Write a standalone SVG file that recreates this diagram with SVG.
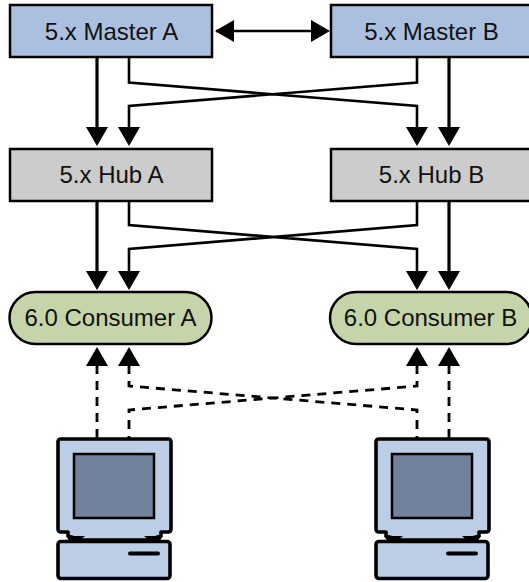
<svg xmlns="http://www.w3.org/2000/svg" width="529" height="582" viewBox="0 0 529 582">
<style>
.n{stroke:#000;stroke-width:2.5}
.t{font-family:"Liberation Sans",Arial,sans-serif;font-size:24px;fill:#111;text-anchor:middle}
.c{fill:none;stroke:#000}
.s{stroke-width:3.2}
.h{stroke-width:2.6}
.d{stroke-width:2.8;stroke-dasharray:9 7}
.ah{fill:#000}
.pc{fill:#bccde6;stroke:#000;stroke-width:3.6;stroke-linejoin:round}
.sc{fill:#71829d;stroke:#000;stroke-width:2.5}
</style>
<defs>
<path id="dn" class="ah" d="M-11 0H11L0 19Z"/>
<path id="up" class="ah" d="M-11 0H11L0 -19Z"/>
<g id="computer">
<path class="pc" d="M0 3Q0 0 3 0H110Q113 0 113 3V90Q113 93 110 93H103V97L90 101H23L10 97V93H3Q0 93 0 90Z"/>
<rect class="sc" x="16" y="15" width="80" height="64"/>
<path d="M8 97H27L20 103H12Z M105 97H86L93 103H101Z" fill="#000"/>
<rect class="pc" x="0" y="102.500" width="112" height="37" rx="3"/>
<path d="M72 114.500H100" stroke="#000" stroke-width="4" stroke-linecap="round"/>
</g>
</defs>
<g id="connectors">
<path class="c h" d="M216 31H317"/>
<path class="ah" d="M215 31L234 20V42Z M330 31L311 20V42Z"/>
<path class="c s" d="M97 57V130M449 57V130M97 201V273M449 201V273"/>
<path class="c h" d="M129 57V82.500L417 106V130M417 57V82.500L129 106V130M129 201V225L417 249V273M417 201V225L129 249V273"/>
<use href="#dn" x="97" y="127"/><use href="#dn" x="129" y="127"/><use href="#dn" x="417" y="127"/><use href="#dn" x="449" y="127"/>
<use href="#dn" x="97" y="271"/><use href="#dn" x="129" y="271"/><use href="#dn" x="417" y="271"/><use href="#dn" x="449" y="271"/>
<path class="c d" d="M97 365V438M449 365V438"/>
<path class="c d" d="M129 365V386L417 410V438M417 365V386L129 410V438"/>
<use href="#up" x="97" y="366"/><use href="#up" x="129" y="366"/><use href="#up" x="417" y="366"/><use href="#up" x="449" y="366"/>
</g>
<g id="master-a"><rect class="n" x="10" y="5" width="202" height="52" fill="#abc0de"/><text class="t" x="111.500" y="39.500">5.x Master A</text></g>
<g id="master-b"><rect class="n" x="331" y="5" width="202" height="52" fill="#abc0de"/><text class="t" x="431.500" y="39.500">5.x Master B</text></g>
<g id="hub-a"><rect class="n" x="10" y="149" width="202" height="52" fill="#cccccc"/><text class="t" x="111.500" y="183">5.x Hub A</text></g>
<g id="hub-b"><rect class="n" x="331" y="149" width="202" height="52" fill="#cccccc"/><text class="t" x="431.500" y="183">5.x Hub B</text></g>
<g id="consumer-a"><rect class="n" x="9.500" y="292" width="202" height="52" rx="26" fill="#c6d5a9"/><text class="t" x="110.500" y="326">6.0 Consumer A</text></g>
<g id="consumer-b"><rect class="n" x="330" y="292" width="202" height="52" rx="26" fill="#c6d5a9"/><text class="t" x="430.500" y="326">6.0 Consumer B</text></g>
<use id="client-a" href="#computer" x="58" y="439"/>
<use id="client-b" href="#computer" x="376" y="439"/>
</svg>
